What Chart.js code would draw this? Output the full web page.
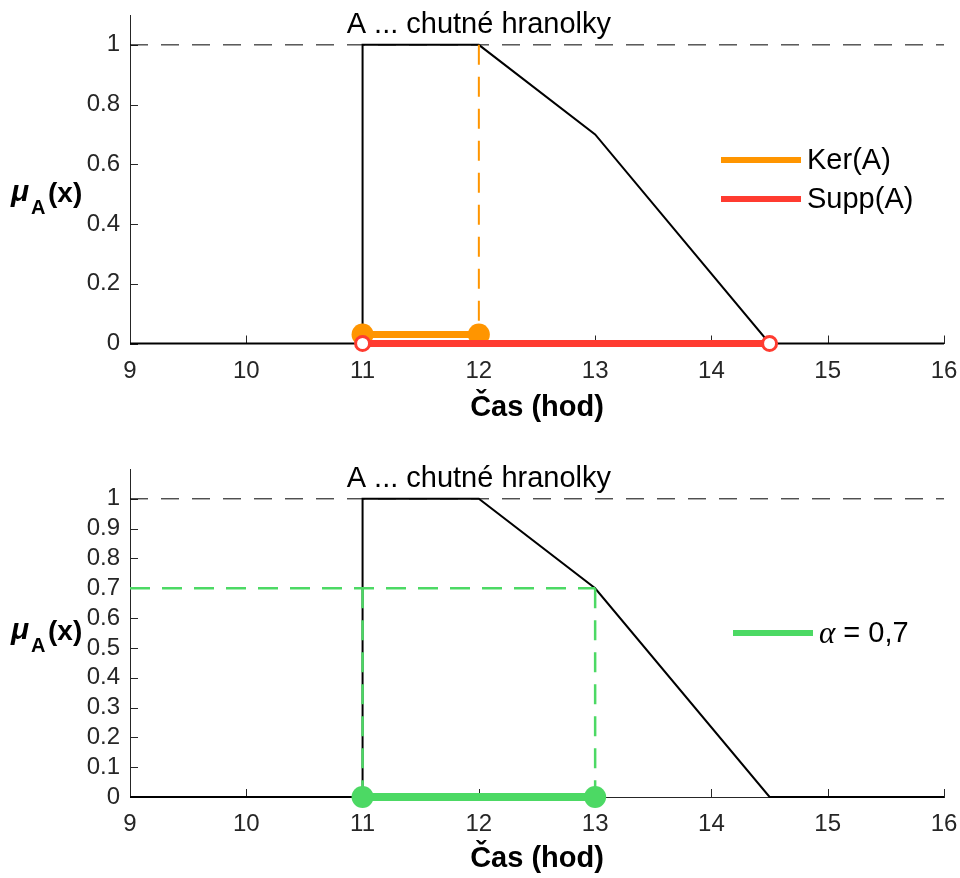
<!DOCTYPE html>
<html lang="cs">
<head>
    <meta charset="UTF-8">
    <title>Jádro, nosič a alfa-řez</title>
    <script src="https://cdn.jsdelivr.net/npm/chart.js"></script>
    <style>
        html, body { margin: 0; padding: 0; background: #fff; }
        #horniBox { position: relative; width: 960px; height: 440px; }
        #dolniBox { position: relative; width: 960px; height: 438px; }
    </style>
</head>
<body>
    <div id="horniBox"><canvas id="horni"></canvas></div>
    <div id="dolniBox"><canvas id="dolni"></canvas></div>

    <script>
        // funkce příslušnosti
        const casX = [9, 11, 11, 12, 13, 14.5, 16];
        const muA = [0, 0, 1, 1, 0.7, 0, 0];

        // jádro a nosič
        const kerX = [11, 12];
        const kerY = [0.03, 0.03];
        const suppX = [11, 14.5];
        const suppY = [0, 0];

        // alfa-řez
        const alfa = 0.7;
        const rezX = [11, 13];
        const rezY = [0, 0];

        const xTicks = [9, 10, 11, 12, 13, 14, 15, 16];
        const yTicksHorni = [0, 0.2, 0.4, 0.6, 0.8, 1];
        const yTicksDolni = [0, 0.1, 0.2, 0.3, 0.4, 0.5, 0.6, 0.7, 0.8, 0.9, 1];

        const nadpis = 'A ... chutné hranolky';
        const nadpisPoloha = { x: 12, y: 1.04 };

        const ORANZOVA = '#ff9500';
        const CERVENA = '#ff3b30';
        const ZELENA = '#4cd964';
        const OSA = '#262626';
        const PISMO = '"Liberation Sans", Arial, Helvetica, sans-serif';

        Chart.defaults.font.family = PISMO;

        function body(xs, ys) {
            return xs.map((x, i) => ({ x: x, y: ys[i] }));
        }

        // vnitřní značky, nadpis, popisek osy y a legenda
        const vyzdoba = {
            id: 'vyzdoba',
            beforeDatasetsDraw(chart) {
                const { ctx, chartArea: a, scales: { x, y } } = chart;
                ctx.save();
                ctx.strokeStyle = OSA;
                ctx.lineWidth = 1;
                ctx.beginPath();
                x.ticks.forEach(t => {
                    const px = Math.round(x.getPixelForValue(t.value)) + 0.5;
                    ctx.moveTo(px, a.bottom);
                    ctx.lineTo(px, a.bottom - 8);
                });
                y.ticks.forEach(t => {
                    const py = Math.round(y.getPixelForValue(t.value)) + 0.5;
                    ctx.moveTo(a.left, py);
                    ctx.lineTo(a.left + 8, py);
                });
                ctx.stroke();
                ctx.restore();
            },
            afterDraw(chart, args, opts) {
                const { ctx, scales: { x, y } } = chart;
                ctx.save();

                // nadpis
                ctx.fillStyle = '#000';
                ctx.font = '29px ' + PISMO;
                ctx.textAlign = 'center';
                ctx.textBaseline = 'alphabetic';
                ctx.fillText(nadpis, x.getPixelForValue(nadpisPoloha.x), y.getPixelForValue(nadpisPoloha.y));

                // mu_A(x)
                const yl = opts.popisekY;
                ctx.textAlign = 'left';
                ctx.font = 'italic bold 30px ' + PISMO;
                ctx.fillText('μ', 11, yl + 6);
                ctx.font = 'bold 20px ' + PISMO;
                ctx.fillText('A', 31, yl + 19);
                ctx.font = 'bold 28px ' + PISMO;
                ctx.fillText('(x)', 48, yl + 7);

                // legenda
                ctx.textBaseline = 'middle';
                opts.legenda.forEach(p => {
                    ctx.strokeStyle = p.barva;
                    ctx.lineWidth = 6;
                    ctx.beginPath();
                    ctx.moveTo(p.x0, p.y);
                    ctx.lineTo(p.x0 + 80, p.y);
                    ctx.stroke();
                    let tx = p.x0 + 86;
                    ctx.fillStyle = '#000';
                    if (p.recky) {
                        ctx.font = 'italic 31px "Liberation Serif", "DejaVu Serif", serif';
                        ctx.fillText(p.recky, tx, p.y + 2);
                        tx += ctx.measureText(p.recky).width;
                    }
                    ctx.font = '29px ' + PISMO;
                    ctx.fillText(p.text, tx, p.y + 1);
                });
                ctx.restore();
            }
        };

        function nastaveni(datasets, yTicks, rozmery) {
            return {
                type: 'scatter',
                data: { datasets: datasets },
                options: {
                    responsive: true,
                    maintainAspectRatio: false,
                    animation: false,
                    events: [],
                    layout: { padding: { top: rozmery.nahore, right: 16, left: 0, bottom: 0 } },
                    scales: {
                        x: {
                            type: 'linear',
                            min: 9,
                            max: 16,
                            afterBuildTicks: s => { s.ticks = xTicks.map(v => ({ value: v })); },
                            afterFit: s => {
                                s.height = rozmery.vyskaX;
                                s.paddingLeft = 0; s.paddingRight = 0;
                            },
                            grid: { display: false, drawTicks: false },
                            border: { display: true, color: OSA, width: 1 },
                            ticks: {
                                color: OSA,
                                font: { size: 24 },
                                padding: 13,
                                maxRotation: 0,
                                autoSkip: false,
                                callback: v => String(v)
                            },
                            title: {
                                display: true,
                                text: 'Čas (hod)',
                                color: '#000',
                                font: { size: 29, weight: 'bold' },
                                padding: { top: 0, bottom: rozmery.titulek }
                            }
                        },
                        y: {
                            type: 'linear',
                            min: 0,
                            max: 1.1,
                            afterBuildTicks: s => { s.ticks = yTicks.map(v => ({ value: v })); },
                            afterFit: s => {
                                s.width = 130;
                                s.paddingTop = 0; s.paddingBottom = 0;
                            },
                            grid: { display: false, drawTicks: false },
                            border: { display: true, color: OSA, width: 1 },
                            ticks: {
                                color: OSA,
                                font: { size: 24 },
                                padding: 10,
                                callback: v => String(Math.round(v * 10) / 10)
                            }
                        }
                    },
                    plugins: {
                        legend: { display: false },
                        tooltip: { enabled: false },
                        vyzdoba: { popisekY: rozmery.popisekY, legenda: rozmery.legenda }
                    }
                },
                plugins: [vyzdoba]
            };
        }

        const cara = (data, barva, sirka, extra) => Object.assign({
            data: data,
            showLine: true,
            borderColor: barva,
            backgroundColor: barva,
            borderWidth: sirka,
            pointRadius: 0,
            borderJoinStyle: 'miter',
            clip: false
        }, extra || {});

        // horní graf: Ker(A) a Supp(A)
        const horniData = [
            cara(body(suppX, suppY), CERVENA, 7, {
                pointRadius: 7, pointBorderWidth: 3,
                pointBorderColor: CERVENA, pointBackgroundColor: '#fff'
            }),
            cara(body(kerX, kerY), ORANZOVA, 7, {
                pointRadius: 11, pointBorderWidth: 0, pointBackgroundColor: ORANZOVA
            }),
            cara(body([kerX[1], kerX[1]], [1, kerY[1]]), ORANZOVA, 2, { borderDash: [20, 12] }),
            cara(body([9, 16], [1, 1]), '#000', 1, { borderDash: [18, 13] }),
            cara(body(casX, muA), '#000', 2)
        ];

        // dolní graf: alfa-řez
        const dolniData = [
            cara(body(rezX, rezY), ZELENA, 8, {
                pointRadius: 11, pointBorderWidth: 0, pointBackgroundColor: ZELENA
            }),
            cara(body([9, rezX[1]], [alfa, alfa]), ZELENA, 2.5, { borderDash: [20, 12] }),
            cara(body([rezX[0], rezX[0]], [alfa, 0]), ZELENA, 2.5, { borderDash: [20, 12] }),
            cara(body([rezX[1], rezX[1]], [alfa, 0]), ZELENA, 2.5, { borderDash: [20, 12] }),
            cara(body([9, 16], [1, 1]), '#000', 1, { borderDash: [18, 13] }),
            cara(body(casX, muA), '#000', 2)
        ];

        new Chart(document.getElementById('horni'), nastaveni(horniData, yTicksHorni, {
            nahore: 15, vyskaX: 96.5, titulek: 15, popisekY: 195,
            legenda: [
                { barva: ORANZOVA, x0: 721, y: 160, text: 'Ker(A)' },
                { barva: CERVENA, x0: 721, y: 199, text: 'Supp(A)' }
            ]
        }));

        new Chart(document.getElementById('dolni'), nastaveni(dolniData, yTicksDolni, {
            nahore: 29, vyskaX: 81, titulek: 2, popisekY: 193,
            legenda: [
                { barva: ZELENA, x0: 733, y: 193, recky: 'α', text: ' = 0,7' }
            ]
        }));
    </script>
</body>
</html>
